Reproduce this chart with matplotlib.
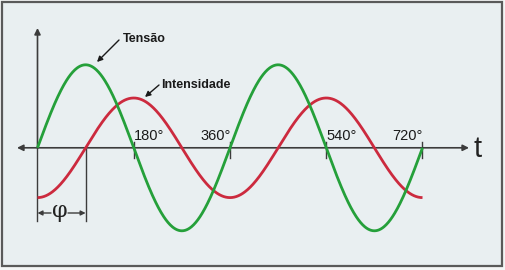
import numpy as np
import matplotlib
matplotlib.use("Agg")
import matplotlib.pyplot as plt
from matplotlib.patches import Rectangle

# ---- data ----
tick_degrees = [180, 360, 540, 720]
tick_labels = ["180°", "360°", "540°", "720°"]
tick_label_align = ["left", "right", "left", "right"]
tension_amplitude = 1.0      # green curve (Tensão)
current_amplitude = 0.6      # red curve (Intensidade)
phase_shift_deg = 90         # phi: current lags voltage
angle_end = 720
series_names = ["Tensão", "Intensidade"]

theta = np.linspace(0, angle_end, 721)
tension = tension_amplitude * np.sin(np.radians(theta))
current = current_amplitude * np.sin(np.radians(theta - phase_shift_deg))

font = "Liberation Sans"

# ---- figure ----
W, H = 505, 270
fig = plt.figure(figsize=(W / 100, H / 100), dpi=100)
fig.patch.set_facecolor("#f4f6f6")
bg = "#e9eff1"
ax = fig.add_axes([0, 0, 1, 1])
ax.set_facecolor(bg)

x0_px, x720_px = 37.5, 422.5
sx = (x720_px - x0_px) / 720.0
y0_px, amp_px = 147.8, 83.0
ax.set_xlim(-x0_px / sx, (W - x0_px) / sx)
ax.set_ylim(-(H - y0_px) / amp_px, y0_px / amp_px)
ax.axis("off")

def X(px):
    return (px - x0_px) / sx

def Y(py):
    return (y0_px - py) / amp_px

# frame
ax.add_patch(Rectangle((0.004, 0.015), 0.99, 0.978, transform=fig.transFigure,
                       facecolor=bg, edgecolor="#5a5a5a", lw=1.6, zorder=0))

axis_col = "#3c3c3c"
ax.annotate("", xy=(X(469), 0), xytext=(X(37.5), 0),
            arrowprops=dict(arrowstyle="-|>", color=axis_col, lw=1.2,
                            mutation_scale=9, shrinkA=0, shrinkB=0), zorder=2)
ax.annotate("", xy=(X(17), 0), xytext=(X(38), 0),
            arrowprops=dict(arrowstyle="-|>", color=axis_col, lw=1.2,
                            mutation_scale=9, shrinkA=0, shrinkB=0), zorder=2)
ax.annotate("", xy=(0, Y(28)), xytext=(0, 0),
            arrowprops=dict(arrowstyle="-|>", color=axis_col, lw=1.2,
                            mutation_scale=9, shrinkA=0, shrinkB=0), zorder=2)
ax.text(X(474), Y(149), "t", fontsize=21, color="#222222", ha="left", va="center",
        family=font)

for d, lab, al in zip(tick_degrees, tick_labels, tick_label_align):
    ax.plot([d, d], [Y(142), Y(158)], color=axis_col, lw=1.0, zorder=2)
    off = X(0.5) - X(0)
    ax.text(d + (off if al == "left" else off), Y(140.5), lab, fontsize=10.5,
            ha=al, va="baseline", color="#1a1a1a", family=font)

# phase marker
ax.plot([0, 0], [0, Y(221)], color=axis_col, lw=1.0, zorder=2)
ax.plot([phase_shift_deg, phase_shift_deg], [0, Y(221)], color=axis_col, lw=1.0, zorder=2)
ax.annotate("", xy=(0, Y(213)), xytext=(X(51), Y(213)),
            arrowprops=dict(arrowstyle="-|>", color=axis_col, lw=1.0,
                            mutation_scale=7, shrinkA=0, shrinkB=0))
ax.annotate("", xy=(phase_shift_deg, Y(213)), xytext=(X(68), Y(213)),
            arrowprops=dict(arrowstyle="-|>", color=axis_col, lw=1.0,
                            mutation_scale=7, shrinkA=0, shrinkB=0))
ax.text(X(59.5), Y(211), "φ", fontsize=16, ha="center", va="center",
        color="#222222", family="DejaVu Serif")

# curves
ax.plot(theta, current, color="#cc2a3e", lw=2.0, zorder=3, solid_capstyle="butt")
ax.plot(theta, tension, color="#25a03a", lw=2.0, zorder=4, solid_capstyle="butt")

# labels with arrows
ax.text(X(122.5), Y(41.5), series_names[0], fontsize=9, fontweight="bold",
        color="#1a1a1a", family=font, va="baseline")
ax.annotate("", xy=(X(97), Y(62)), xytext=(X(119), Y(40)),
            arrowprops=dict(arrowstyle="-|>", color="#1a1a1a", lw=1.0,
                            mutation_scale=8, shrinkA=0, shrinkB=0))
ax.text(X(161.5), Y(87.5), series_names[1], fontsize=9, fontweight="bold",
        color="#1a1a1a", family=font, va="baseline")
ax.annotate("", xy=(X(145), Y(97)), xytext=(X(159), Y(85)),
            arrowprops=dict(arrowstyle="-|>", color="#1a1a1a", lw=1.0,
                            mutation_scale=8, shrinkA=0, shrinkB=0))

fig.savefig("out.png", dpi=100, facecolor=fig.get_facecolor())
